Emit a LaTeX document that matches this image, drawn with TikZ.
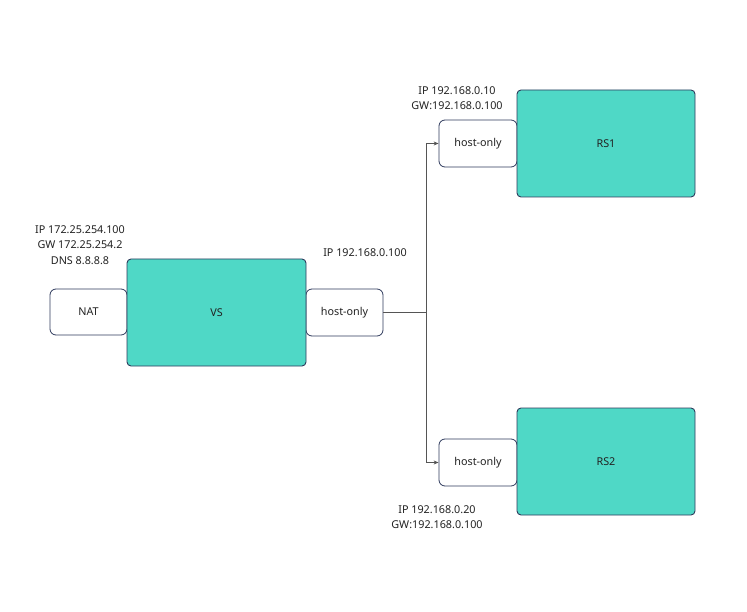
\documentclass[tikz,border=0pt]{standalone}
\usepackage{fontspec}
\setmainfont{Noto Sans}
\usetikzlibrary{arrows.meta}
\definecolor{teal}{HTML}{4FD8C6}
\definecolor{edge}{HTML}{2E3A5C}
\definecolor{wire}{HTML}{555555}
\definecolor{txt}{HTML}{222222}
\tikzset{
  bigbox/.style={draw=edge,line width=0.9pt,fill=teal,rounded corners=4pt,text=txt,font=\fontsize{10.8}{13}\selectfont},
  portbox/.style={draw=edge,line width=0.8pt,fill=white,rounded corners=6pt,text=txt,font=\fontsize{10.8}{13}\selectfont},
  info/.style={align=center,text=txt,font=\fontsize{10.8}{15.5}\selectfont,inner sep=0pt},
  wireline/.style={draw=wire,line width=0.8pt},
  tip/.style={-{Stealth[length=5pt,width=4pt]}}
}
\begin{document}
\begin{tikzpicture}[x=1pt,y=-1pt]
\useasboundingbox (0,0) rectangle (747,612);
% port boxes
\node[portbox,minimum width=77pt,minimum height=46pt] (nat) at (88.5,312) {NAT};
\node[portbox,minimum width=77pt,minimum height=47pt] (hvs) at (344.5,312.5) {host-only};
\node[portbox,minimum width=78pt,minimum height=47pt] (h1) at (478,143.5) {host-only};
\node[portbox,minimum width=78pt,minimum height=47pt] (h2) at (478,462.5) {host-only};
% machines
\node[bigbox,minimum width=179pt,minimum height=107pt] (vs) at (216.5,312.5) {VS};
\node[bigbox,minimum width=178pt,minimum height=107pt] (rs1) at (606,143.5) {RS1};
\node[bigbox,minimum width=178pt,minimum height=107pt] (rs2) at (606,461.5) {RS2};
% labels
\node[info] (natinfo) at (80,245) {IP 172.25.254.100\\GW 172.25.254.2\\DNS 8.8.8.8};
\node[info] (vsinfo) at (365,253) {IP 192.168.0.100};
\node[info] (rs1info) at (457,98) {IP 192.168.0.10\\GW:192.168.0.100};
\node[info] (rs2info) at (437,517) {IP 192.168.0.20\\GW:192.168.0.100};
% connectors
\coordinate (j) at (426,312.5);
\draw[wireline] (hvs.east) -- (j);
\draw[wireline,tip] (j) |- (h1.west);
\draw[wireline,tip] (j) |- (h2.west);
\end{tikzpicture}
\end{document}
